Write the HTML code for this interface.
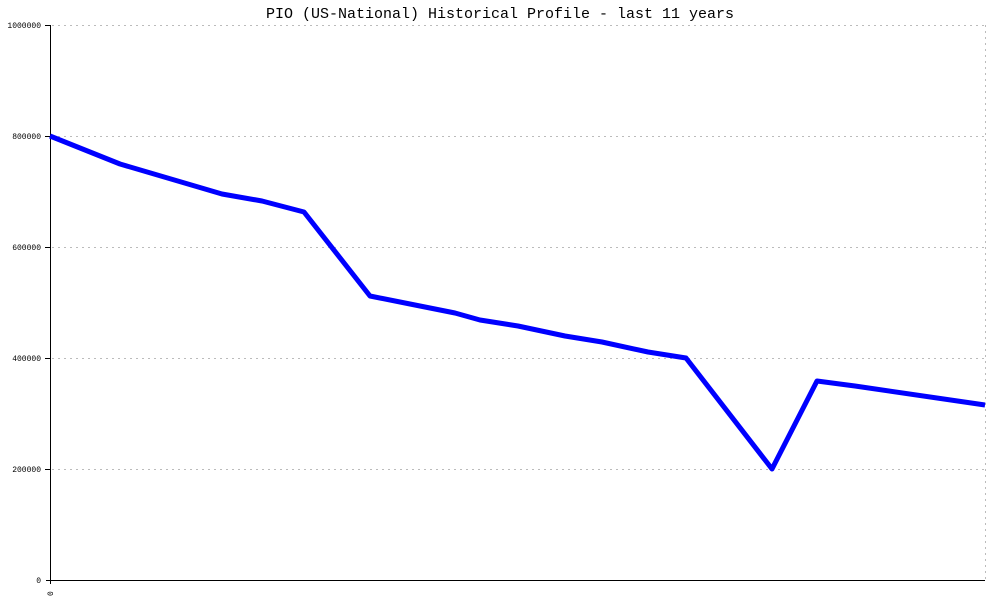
<!DOCTYPE html>
<html><head><style>body{margin:0;background:#fff}svg{display:block}</style></head><body>
<svg width="1000" height="600" xmlns="http://www.w3.org/2000/svg" font-family="Liberation Mono, monospace">
<rect width="1000" height="600" fill="#fff"/>
<text x="500" y="18" text-anchor="middle" font-size="15" fill="#000">PIO (US-National) Historical Profile - last 11 years</text>
<g stroke="#bbb" stroke-dasharray="2,4" stroke-width="1">
<line x1="52" y1="25.5" x2="985" y2="25.5"/>
<line x1="52" y1="136.5" x2="985" y2="136.5"/>
<line x1="52" y1="247.5" x2="985" y2="247.5"/>
<line x1="52" y1="358.5" x2="985" y2="358.5"/>
<line x1="52" y1="469.5" x2="985" y2="469.5"/>
<line x1="985.5" y1="25" x2="985.5" y2="580"/>
</g>
<g stroke="#000" stroke-width="1">
<line x1="50.5" y1="25" x2="50.5" y2="584"/>
<line x1="46" y1="580.5" x2="985" y2="580.5"/>
<line x1="45" y1="25.5" x2="50" y2="25.5"/>
<line x1="45" y1="136.5" x2="50" y2="136.5"/>
<line x1="45" y1="247.5" x2="50" y2="247.5"/>
<line x1="45" y1="358.5" x2="50" y2="358.5"/>
<line x1="45" y1="469.5" x2="50" y2="469.5"/>
</g>
<g font-size="8" text-anchor="end" fill="#000">
<text x="41" y="28">1000000</text>
<text x="41" y="139">800000</text>
<text x="41" y="250">600000</text>
<text x="41" y="361">400000</text>
<text x="41" y="472">200000</text>
<text x="41" y="583">0</text>
</g>
<text x="0" y="0" font-size="8" transform="translate(53,596) rotate(-90)">0</text>
<polyline fill="none" stroke="#0000ff" stroke-width="5" stroke-linejoin="round" points="50,136 120,164 222,194 262,201 304,212 370,296 410,304 455,313 480,320 518,326 565,336 602,342 648,352 686,358 772,469 817,381 855,386 985,405"/>
</svg>
</body></html>
